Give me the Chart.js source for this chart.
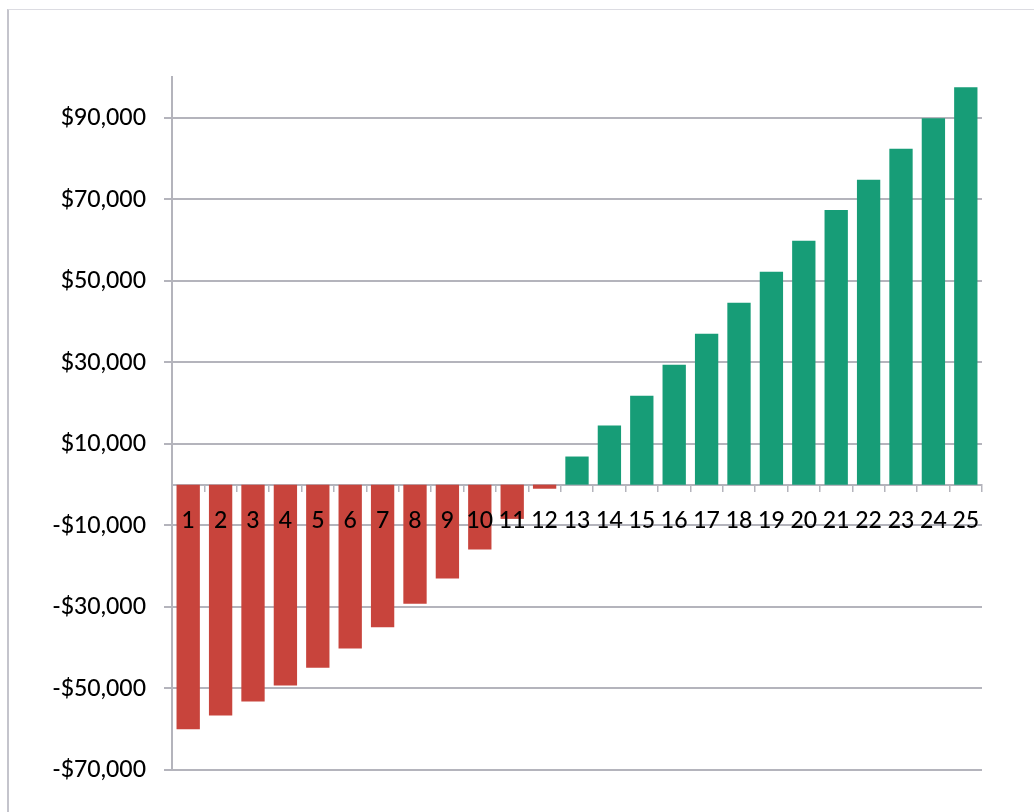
<!DOCTYPE html>
<html>
<head>
<meta charset="utf-8">
<script src="https://cdn.jsdelivr.net/npm/chart.js@4"></script>
<style>
  body { margin: 0; background: #fff; }
  #wrap { position: relative; width: 1034px; height: 812px; }
  #frame {
    position: absolute; left: 7px; top: 9px; right: 0; bottom: 0;
    border-left: 2px solid #c4c4cc; border-top: 1px solid #dcdce2;
  }
</style>
</head>
<body>
<div id="wrap">
  <div id="frame"></div>
  <canvas id="cashChart"></canvas>
</div>
<script>
// periode 1..25
const periods = [
  "1", "2", "3", "4", "5", "6", "7", "8", "9", "10", "11", "12", "13",
  "14", "15", "16", "17", "18", "19", "20", "21", "22", "23", "24", "25",
];

// saldo kumulatif per periode
const balances = [
  -60000, -56600, -53200, -49300, -44900, -40200, -35000, -29200, -23000,
  -15900, -8400, -1000, 6900, 14500, 21800, 29400, 37000, 44600, 52200,
  59800, 67400, 74800, 82400, 89900, 97500,
];

const yTicks = [-70000, -50000, -30000, -10000, 10000, 30000, 50000, 70000, 90000];
const yMin = -70000;
const yMax = 100000;

const red = "#c8443c";
const green = "#179d77";
const gridGray = "#b4b4bc";

const ctx = document.getElementById("cashChart");

new Chart(ctx, {
  type: "bar",

  data: {
    labels: periods,

    datasets: [
      {
        data: balances,

        backgroundColor: balances.map((v) => (v < 0 ? red : green)),

        borderWidth: 0,

        barPercentage: 0.72,

        categoryPercentage: 1,
      },
    ],
  },

  options: {
    responsive: true,
    maintainAspectRatio: false,
    animation: false,

    layout: {
      padding: { top: 77, right: 52, bottom: 42, left: 0 },
    },

    plugins: {
      legend: { display: false },
      tooltip: { enabled: false },
    },

    scales: {
      x: {
        position: { y: 0 },

        grid: {
          drawOnChartArea: false,
          drawTicks: true,
          tickLength: 6,
          color: gridGray,
          lineWidth: 1.5,
        },

        border: { color: gridGray, width: 2 },

        ticks: {
          z: 1,
          padding: 16,
          color: "#000",
          maxRotation: 0,
          autoSkip: false,
          font: { family: "Lato", size: 23, weight: 500 },
        },
      },

      y: {
        min: yMin,
        max: yMax,

        afterBuildTicks: function (scale) {
          scale.ticks = yTicks.map((v) => ({ value: v }));
        },

        afterFit: function (scale) {
          scale.width = 172;
        },

        grid: {
          color: gridGray,
          lineWidth: 2,
          tickLength: 8,
        },

        border: { color: gridGray, width: 2 },

        ticks: {
          padding: 18,
          color: "#000",
          font: { family: "Lato", size: 23, weight: 500 },
          callback: function (value) {
            const s = "$" + Math.abs(value).toLocaleString("en-US");
            return value < 0 ? "-" + s : s;
          },
        },
      },
    },
  },
});
</script>
</body>
</html>
